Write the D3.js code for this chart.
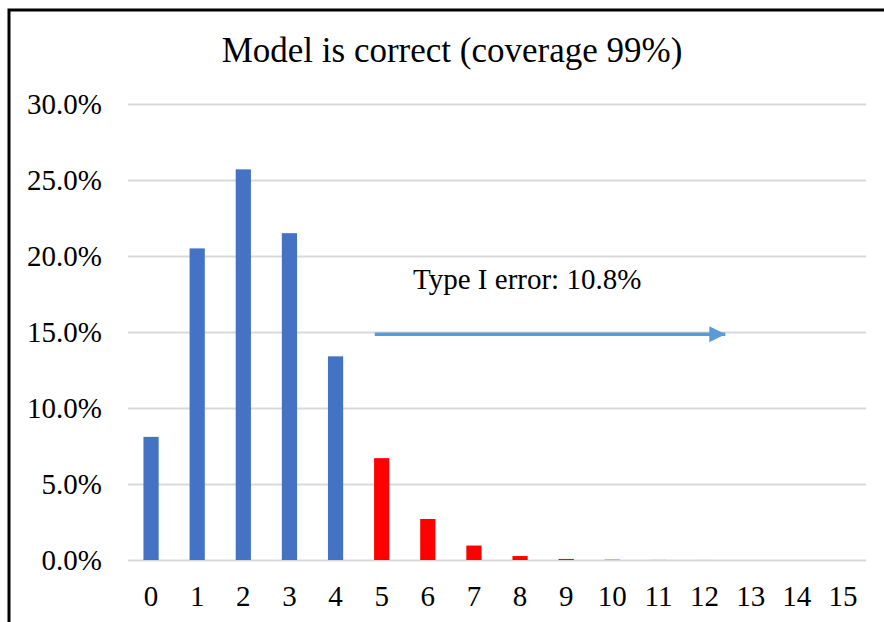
<!DOCTYPE html>
<html>
<head>
<meta charset="utf-8">
<script src="https://cdn.jsdelivr.net/npm/d3@7"></script>
<style>
  html, body { margin: 0; padding: 0; background: #fff; }
  svg { display: block; }
  svg text { font-family: "Liberation Serif", "Times New Roman", serif !important; }
</style>
</head>
<body>
<div id="chart"></div>
<script>
// categories (number of exceptions) and their probabilities in percent
const categories = ["0","1","2","3","4","5","6","7","8","9","10","11","12","13","14","15"];
const probabilities = [8.1, 20.5, 25.7, 21.5, 13.4, 6.7, 2.7, 0.95, 0.26, 0.07, 0.02, 0.004, 0.001, 0, 0, 0];
// which bars fall in the rejection region
const rejected = [false, false, false, false, false, true, true, true, true, true, true, true, true, true, true, true];
const yTicks = [0, 5, 10, 15, 20, 25, 30];

const titleText = "Model is correct (coverage 99%)";
const noteText = "Type I error: 10.8%";

const width = 884, height = 622;
const margin = { top: 104, right: 18, bottom: 62, left: 128 };
const innerW = width - margin.left - margin.right;
const innerH = height - margin.top - margin.bottom;

const svg = d3.select("#chart").append("svg")
  .attr("width", width)
  .attr("height", height);

// frame (only top and left edges are inside the picture)
svg.append("path")
  .attr("d", "M9," + height + "V10H" + (width + 5))
  .attr("fill", "none")
  .attr("stroke", "#000")
  .attr("stroke-width", 3);

const g = svg.append("g")
  .attr("transform", "translate(" + margin.left + "," + margin.top + ")");

// scales
const x = d3.scaleBand()
  .domain(categories)
  .range([0, innerW])
  .paddingInner(0.67)
  .paddingOuter(0.335);

const y = d3.scaleLinear()
  .domain([0, 30])
  .range([innerH, 0]);

// position along the category axis, in category units
const xPos = d3.scaleLinear().domain([0, categories.length]).range([0, innerW]);

// gridlines + y labels
const yAxis = d3.axisLeft(y)
  .tickValues(yTicks)
  .tickSize(-innerW)
  .tickPadding(26)
  .tickFormat(d => d.toFixed(1) + "%");

g.append("g")
  .call(yAxis)
  .call(a => a.select(".domain").remove())
  .call(a => a.selectAll("line").attr("stroke", "#d9d9d9").attr("stroke-width", 2))
  .call(a => a.selectAll("text")
    .attr("font-size", 29)
    .attr("fill", "#000"));

// x labels
const xAxis = d3.axisBottom(x).tickSize(0).tickPadding(25);
g.append("g")
  .attr("transform", "translate(0," + innerH + ")")
  .call(xAxis)
  .call(a => a.select(".domain").remove())
  .call(a => a.selectAll("text")
    .attr("font-size", 29)
    .attr("fill", "#000"));

// bars
g.append("g")
  .selectAll("rect")
  .data(categories)
  .enter()
  .append("rect")
  .attr("x", d => x(d))
  .attr("width", x.bandwidth())
  .attr("y", (d, i) => y(probabilities[i]))
  .attr("height", (d, i) => innerH - y(probabilities[i]))
  .attr("fill", (d, i) => rejected[i] ? "#ff0000" : "#4472c4");

// title
svg.append("text")
  .attr("x", 452)
  .attr("y", 62)
  .attr("text-anchor", "middle")
  .attr("font-size", 35)
  .attr("fill", "#000")
  .text(titleText);

// arrow annotation
const defs = svg.append("defs");
defs.append("marker")
  .attr("id", "head")
  .attr("viewBox", "0 0 10 10")
  .attr("refX", 10)
  .attr("refY", 5)
  .attr("markerUnits", "userSpaceOnUse")
  .attr("markerWidth", 16)
  .attr("markerHeight", 16)
  .attr("orient", "auto")
  .append("path")
  .attr("d", "M0,0L10,5L0,10Z")
  .attr("fill", "#5b9bd5");

g.append("line")
  .attr("x1", xPos(5.35))
  .attr("x2", xPos(12.95))
  .attr("y1", y(14.85))
  .attr("y2", y(14.85))
  .attr("stroke", "#5b9bd5")
  .attr("stroke-width", 3.5)
  .attr("marker-end", "url(#head)");

g.append("text")
  .attr("x", xPos(6.18))
  .attr("y", y(17.8))
  .attr("font-size", 29)
  .attr("fill", "#000")
  .text(noteText);
</script>
</body>
</html>
